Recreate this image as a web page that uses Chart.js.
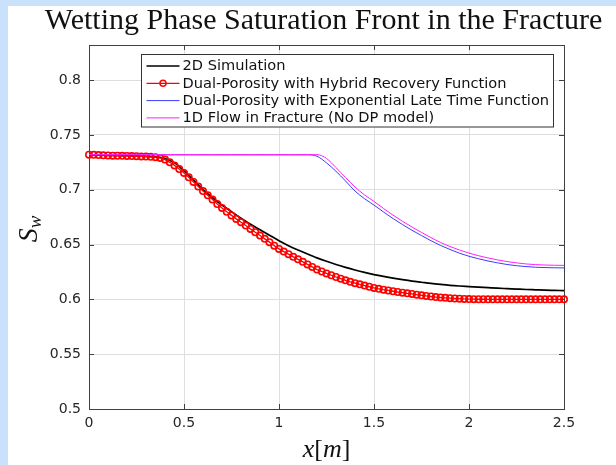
<!DOCTYPE html>
<html>
<head>
<meta charset="utf-8">
<script src="https://cdn.jsdelivr.net/npm/chart.js@4/dist/chart.umd.min.js"></script>
<style>
  body { margin: 0; background: #c9e1fa; }
  #panel { position: absolute; left: 8px; top: 6px; width: 608px; height: 459px; background: #fff; }
</style>
</head>
<body>
<div id="panel"><canvas id="chart" width="608" height="459"></canvas></div>
<script>
const xTicks = [0, 0.5, 1, 1.5, 2, 2.5];
const yTicks = [0.5, 0.55, 0.6, 0.65, 0.7, 0.75, 0.8];

const labels = [
  "2D Simulation",
  "Dual-Porosity with Hybrid Recovery Function",
  "Dual-Porosity with Exponential Late Time Function",
  "1D Flow in Fracture (No DP model)"
];

// x for the smooth lines
const xLine = [0, 0.05, 0.1, 0.15, 0.2, 0.25, 0.3, 0.35, 0.4, 0.45,
  0.5, 0.55, 0.6, 0.65, 0.7, 0.75, 0.8, 0.85, 0.9, 0.95,
  1, 1.05, 1.1, 1.15, 1.2, 1.25, 1.3, 1.35, 1.4, 1.45,
  1.5, 1.55, 1.6, 1.65, 1.7, 1.75, 1.8, 1.85, 1.9, 1.95,
  2, 2.05, 2.1, 2.15, 2.2, 2.25, 2.3, 2.35, 2.4, 2.45, 2.5];

const s2D = [0.7315, 0.7315, 0.7314, 0.7312, 0.7310, 0.7308, 0.7305, 0.7299, 0.7285, 0.7245,
  0.7172, 0.7087, 0.7002, 0.6927, 0.6860, 0.6800, 0.6740, 0.6685, 0.6635, 0.6585,
  0.6535, 0.6490, 0.6450, 0.6413, 0.6378, 0.6347, 0.6318, 0.6292, 0.6268, 0.6246,
  0.6226, 0.6209, 0.6194, 0.6180, 0.6167, 0.6156, 0.6145, 0.6136, 0.6128, 0.6122,
  0.6117, 0.6112, 0.6107, 0.6102, 0.6098, 0.6094, 0.6090, 0.6087, 0.6084, 0.6082, 0.6080];

const sExp = [0.7318, 0.7318, 0.7318, 0.7318, 0.7318, 0.7318, 0.7318, 0.7318, 0.7318, 0.7318,
  0.7318, 0.7318, 0.7318, 0.7318, 0.7318, 0.7318, 0.7318, 0.7318, 0.7318, 0.7318,
  0.7318, 0.7318, 0.7318, 0.7318, 0.7305, 0.7245, 0.7168, 0.7080, 0.6988, 0.6918,
  0.6860, 0.6797, 0.6737, 0.6682, 0.6630, 0.6582, 0.6535, 0.6492, 0.6455, 0.6421,
  0.6393, 0.6370, 0.6350, 0.6333, 0.6318, 0.6307, 0.6299, 0.6293, 0.6290, 0.6288, 0.6287];

const s1D = [0.7320, 0.7320, 0.7320, 0.7320, 0.7320, 0.7320, 0.7320, 0.7320, 0.7320, 0.7320,
  0.7320, 0.7320, 0.7320, 0.7320, 0.7320, 0.7320, 0.7320, 0.7320, 0.7320, 0.7320,
  0.7320, 0.7320, 0.7320, 0.7320, 0.7320, 0.7285, 0.7202, 0.7112, 0.7025, 0.6953,
  0.6893, 0.6829, 0.6768, 0.6712, 0.6660, 0.6610, 0.6563, 0.6519, 0.6482, 0.6450,
  0.6422, 0.6398, 0.6378, 0.6360, 0.6345, 0.6333, 0.6323, 0.6317, 0.6313, 0.6311, 0.6310];

// hybrid recovery, plotted with markers
const xHybrid = [0, 0.025, 0.05, 0.075, 0.1, 0.125, 0.15, 0.175, 0.2, 0.225,
  0.25, 0.275, 0.3, 0.325, 0.35, 0.375, 0.4, 0.425, 0.45, 0.475,
  0.5, 0.525, 0.55, 0.575, 0.6, 0.625, 0.65, 0.675, 0.7, 0.725,
  0.75, 0.775, 0.8, 0.825, 0.85, 0.875, 0.9, 0.925, 0.95, 0.975,
  1, 1.025, 1.05, 1.075, 1.1, 1.125, 1.15, 1.175, 1.2, 1.225,
  1.25, 1.275, 1.3, 1.325, 1.35, 1.375, 1.4, 1.425, 1.45, 1.475,
  1.5, 1.525, 1.55, 1.575, 1.6, 1.625, 1.65, 1.675, 1.7, 1.725,
  1.75, 1.775, 1.8, 1.825, 1.85, 1.875, 1.9, 1.925, 1.95, 1.975,
  2, 2.025, 2.05, 2.075, 2.1, 2.125, 2.15, 2.175, 2.2, 2.225,
  2.25, 2.275, 2.3, 2.325, 2.35, 2.375, 2.4, 2.425, 2.45, 2.475, 2.5];

const sHybrid = [0.7320, 0.7318, 0.7316, 0.7314, 0.7312, 0.7311, 0.7310, 0.7309, 0.7308, 0.7307,
  0.7306, 0.7304, 0.7302, 0.7300, 0.7297, 0.7290, 0.7275, 0.7250, 0.7222, 0.7188,
  0.7153, 0.7113, 0.7071, 0.7029, 0.6988, 0.6949, 0.6910, 0.6870, 0.6834, 0.6799,
  0.6766, 0.6734, 0.6704, 0.6673, 0.6642, 0.6612, 0.6582, 0.6552, 0.6522, 0.6490,
  0.6460, 0.6436, 0.6412, 0.6388, 0.6365, 0.6342, 0.6319, 0.6296, 0.6272, 0.6254,
  0.6237, 0.6220, 0.6204, 0.6189, 0.6174, 0.6160, 0.6148, 0.6137, 0.6126, 0.6115,
  0.6104, 0.6096, 0.6088, 0.6081, 0.6074, 0.6067, 0.6061, 0.6055, 0.6050, 0.6043,
  0.6037, 0.6031, 0.6026, 0.6021, 0.6017, 0.6014, 0.6011, 0.6008, 0.6006, 0.6004,
  0.6003, 0.6002, 0.6001, 0.6001, 0.6000, 0.6000, 0.6000, 0.6000, 0.6000, 0.6000,
  0.6000, 0.6000, 0.6000, 0.6000, 0.6000, 0.6000, 0.6000, 0.6000, 0.6000, 0.6000, 0.6000];

const boxColor = "#404040";
const gridColor = "#dedede";

function pts(xs, ys) {
  return xs.map((x, i) => ({ x: x, y: ys[i] }));
}

// matlab style: inward ticks, boxed legend, latex-ish axis labels
const decor = {
  id: "decor",
  afterDraw(chart) {
    const ctx = chart.ctx;
    const a = chart.chartArea;
    const xs = chart.scales.x;
    const ys = chart.scales.y;
    ctx.save();
    ctx.strokeStyle = boxColor;
    ctx.lineWidth = 1;
    ctx.beginPath();
    xTicks.forEach(v => {
      const p = Math.round(xs.getPixelForValue(v)) + 0.5;
      ctx.moveTo(p, a.bottom); ctx.lineTo(p, a.bottom - 5);
      ctx.moveTo(p, a.top); ctx.lineTo(p, a.top + 5);
    });
    yTicks.forEach(v => {
      const p = Math.round(ys.getPixelForValue(v)) + 0.5;
      ctx.moveTo(a.left, p); ctx.lineTo(a.left + 5, p);
      ctx.moveTo(a.right, p); ctx.lineTo(a.right - 5, p);
    });
    ctx.stroke();

    // legend
    const lx = 133.5, ly = 48.5, lw = 412, lh = 72.5;
    ctx.fillStyle = "#fff";
    ctx.fillRect(lx, ly, lw, lh);
    ctx.strokeStyle = "#333";
    ctx.strokeRect(lx, ly, lw, lh);
    ctx.font = "14.6px 'DejaVu Sans'";
    ctx.textBaseline = "middle";
    chart.data.datasets.forEach((ds, i) => {
      const ry = ly + 11.5 + i * 17.3;
      ctx.strokeStyle = ds.borderColor;
      ctx.lineWidth = ds.borderWidth;
      ctx.beginPath();
      ctx.moveTo(lx + 5, ry); ctx.lineTo(lx + 38, ry);
      ctx.stroke();
      if (ds.pointRadius > 0) {
        ctx.lineWidth = 1.5;
        ctx.beginPath();
        ctx.arc(lx + 21.5, ry, 3, 0, Math.PI * 2);
        ctx.stroke();
      }
      ctx.fillStyle = "#111";
      ctx.fillText(ds.label, lx + 41, ry + 0.5);
    });

    // x label: x[m]
    ctx.fillStyle = "#111";
    ctx.textBaseline = "alphabetic";
    const xl = [["x", "italic"], ["[", "normal"], ["m", "italic"], ["]", "normal"]];
    let tw = 0;
    xl.forEach(s => { ctx.font = s[1] + " 26px 'Liberation Serif'"; tw += ctx.measureText(s[0]).width; });
    let cx = (a.left + a.right) / 2 - tw / 2;
    xl.forEach(s => {
      ctx.font = s[1] + " 26px 'Liberation Serif'";
      ctx.fillText(s[0], cx, 451);
      cx += ctx.measureText(s[0]).width;
    });

    // y label: S_w
    ctx.translate(29, (a.top + a.bottom) / 2 + 2);
    ctx.rotate(-Math.PI / 2);
    ctx.font = "italic 28px 'Liberation Serif'";
    const sw = ctx.measureText("S").width;
    ctx.font = "italic 19px 'Liberation Serif'";
    const ww = ctx.measureText("w").width;
    const sx = -(sw + ww) / 2;
    ctx.font = "italic 28px 'Liberation Serif'";
    ctx.fillText("S", sx, 0);
    ctx.font = "italic 19px 'Liberation Serif'";
    ctx.fillText("w", sx + sw, 4);
    ctx.restore();
  }
};

new Chart(document.getElementById("chart"), {
  type: "line",
  data: {
    datasets: [
      { label: labels[0], data: pts(xLine, s2D), borderColor: "#000", borderWidth: 1.7,
        pointRadius: 0, cubicInterpolationMode: "monotone", order: 3 },
      { label: labels[1], data: pts(xHybrid, sHybrid), borderColor: "#ff0000", borderWidth: 1.3,
        pointRadius: 3.2, pointBorderWidth: 1.6, pointBorderColor: "#ff0000",
        pointBackgroundColor: "rgba(0,0,0,0)", clip: 6, order: 2 },
      { label: labels[2], data: pts(xLine, sExp), borderColor: "#3c3cff", borderWidth: 1,
        pointRadius: 0, cubicInterpolationMode: "monotone", order: 1 },
      { label: labels[3], data: pts(xLine, s1D), borderColor: "#ff20ff", borderWidth: 1,
        pointRadius: 0, cubicInterpolationMode: "monotone", order: 0 }
    ]
  },
  options: {
    responsive: false,
    animation: false,
    layout: { padding: { left: 23, right: 0, top: 0, bottom: 0 } },
    plugins: {
      legend: { display: false },
      tooltip: { enabled: false },
      title: {
        display: true,
        text: "Wetting Phase Saturation Front in the Fracture",
        color: "#111",
        font: { family: "'Liberation Serif'", size: 30, weight: "normal", lineHeight: 1 },
        padding: { top: 0, bottom: 0 }
      }
    },
    scales: {
      x: {
        type: "linear", position: "bottom", min: 0, max: 2.5,
        afterBuildTicks: s => { s.ticks = xTicks.map(v => ({ value: v })); },
        afterFit: s => { s.height = 56; },
        ticks: { color: "#262626", font: { family: "'DejaVu Sans'", size: 14 }, padding: 6,
          maxRotation: 0, callback: v => String(v) },
        grid: { color: gridColor, drawTicks: false },
        border: { display: true, color: boxColor, width: 1 }
      },
      x2: {
        type: "linear", position: "top", min: 0, max: 2.5,
        afterFit: s => { s.height = 9; },
        ticks: { display: false },
        grid: { drawOnChartArea: false, drawTicks: false },
        border: { display: true, color: boxColor, width: 1 }
      },
      y: {
        type: "linear", position: "left", min: 0.5, max: 0.832,
        afterBuildTicks: s => { s.ticks = yTicks.map(v => ({ value: v })); },
        afterFit: s => { s.width = 58; },
        ticks: { color: "#262626", font: { family: "'DejaVu Sans'", size: 14 }, padding: 8,
          callback: v => String(v) },
        grid: { color: gridColor, drawTicks: false },
        border: { display: true, color: boxColor, width: 1 }
      },
      y2: {
        type: "linear", position: "right", min: 0.5, max: 0.832,
        afterFit: s => { s.width = 52; },
        ticks: { display: false },
        grid: { drawOnChartArea: false, drawTicks: false },
        border: { display: true, color: boxColor, width: 1 }
      }
    }
  },
  plugins: [decor]
});
</script>
</body>
</html>
